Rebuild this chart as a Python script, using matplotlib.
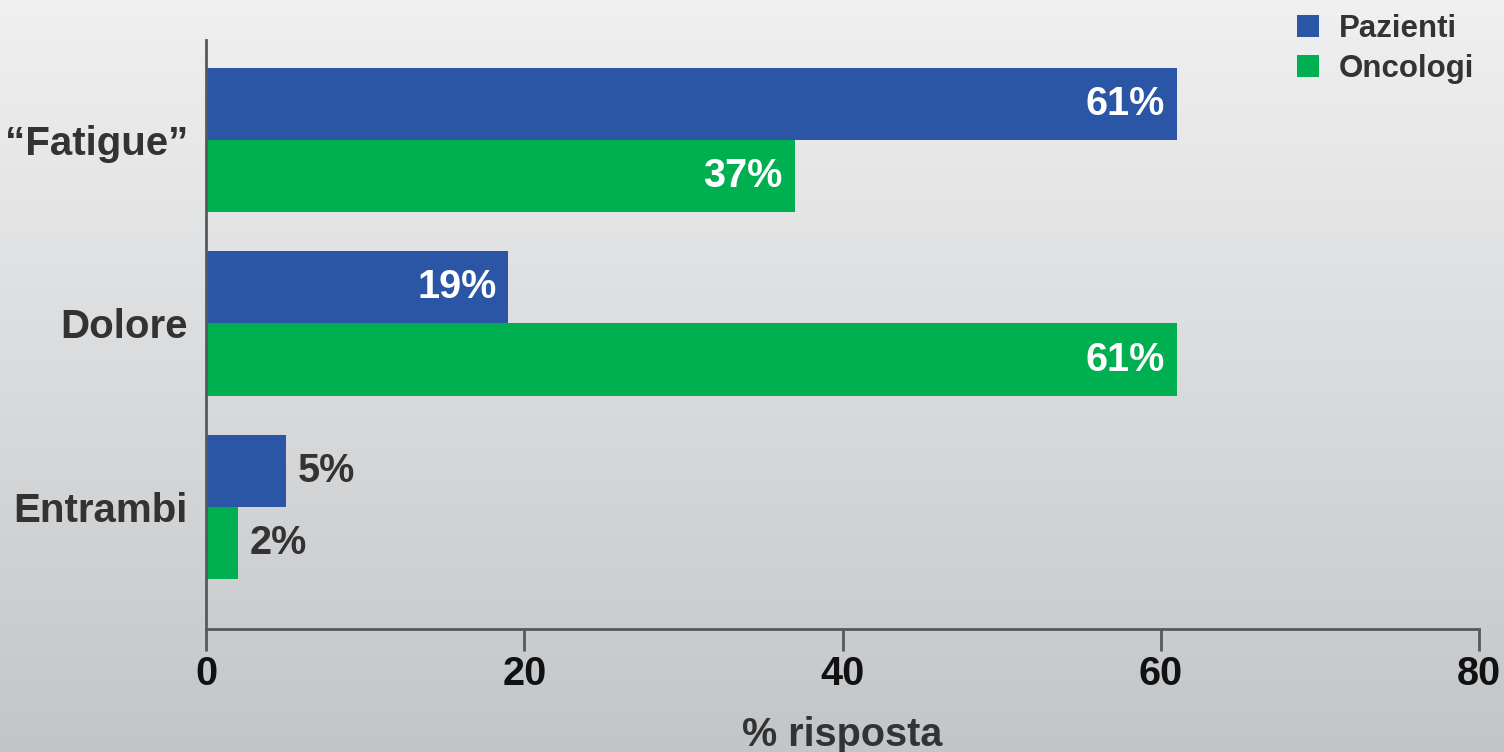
import numpy as np
import matplotlib
matplotlib.use("Agg")
import matplotlib.pyplot as plt

plt.rcParams["font.family"] = ["Liberation Sans", "DejaVu Sans"]
plt.rcParams["font.weight"] = "bold"

# ---- data ------------------------------------------------------------------
categories = ["\u201cFatigue\u201d", "Dolore", "Entrambi"]
pazienti = [61, 19, 5]
oncologi = [37, 61, 2]
series_names = ["Pazienti", "Oncologi"]
xticks = [0, 20, 40, 60, 80]

BLUE = "#2b56a6"
GREEN = "#00b050"
TXT = "#333333"
SPINE = "#55595e"

fig = plt.figure(figsize=(15.04, 7.52), dpi=100)

# grey vertical gradient behind everything
bg = fig.add_axes([0, 0, 1, 1], zorder=-10)
grad = np.linspace(0, 1, 256).reshape(-1, 1)
top_c = np.array([0xf0, 0xf0, 0xf0]) / 255
bot_c = np.array([0xc3, 0xc6, 0xc9]) / 255
img = top_c + (bot_c - top_c) * grad[..., None]
bg.imshow(img, aspect="auto", extent=[0, 1, 0, 1])
bg.axis("off")

ax = fig.add_axes([206 / 1504, 123 / 752, 1273 / 1504, 589 / 752])
ax.patch.set_alpha(0)

y = np.arange(len(categories))
h = 0.393
b1 = ax.barh(y - h / 2, pazienti, height=h, color=BLUE, label=series_names[0])
b2 = ax.barh(y + h / 2, oncologi, height=h, color=GREEN, label=series_names[1])

for bars, vals in ((b1, pazienti), (b2, oncologi)):
    for bar, v in zip(bars, vals):
        cy = bar.get_y() + bar.get_height() / 2
        if v >= 10:
            ax.text(v - 0.75, cy, f"{v}%", color="white", fontsize=28.5,
                    fontweight="bold", ha="right", va="center")
        else:
            ax.text(v + 0.75, cy, f"{v}%", color=TXT, fontsize=28.5,
                    fontweight="bold", ha="left", va="center")

ax.set_xlim(0, 80)
ax.set_ylim(2.665, -0.545)
ax.set_xticks(xticks)
ax.set_xticklabels([str(t) for t in xticks], fontsize=28.5, fontweight="bold", color="#111111")
ax.set_yticks(y)
ax.set_yticklabels(categories, fontsize=29, fontweight="bold", color=TXT)
ax.tick_params(axis="y", length=0, pad=13)
ax.tick_params(axis="x", length=16, width=2, color=SPINE, pad=3)
for s in ("top", "right"):
    ax.spines[s].set_visible(False)
for s in ("left", "bottom"):
    ax.spines[s].set_color(SPINE)
    ax.spines[s].set_linewidth(2)

ax.set_xlabel("% risposta", fontsize=28.5, fontweight="bold", color=TXT, labelpad=16)

leg = ax.legend(loc="upper left", bbox_to_anchor=(1278 / 1504, 1.006),
                bbox_transform=fig.transFigure, frameon=False,
                fontsize=22.5, handlelength=0.7, handleheight=0.7,
                handletextpad=0.65, labelspacing=0.3, borderaxespad=0.2)
for t in leg.get_texts():
    t.set_color(TXT)
    t.set_fontweight("bold")

fig.savefig("out.png", dpi=100)
